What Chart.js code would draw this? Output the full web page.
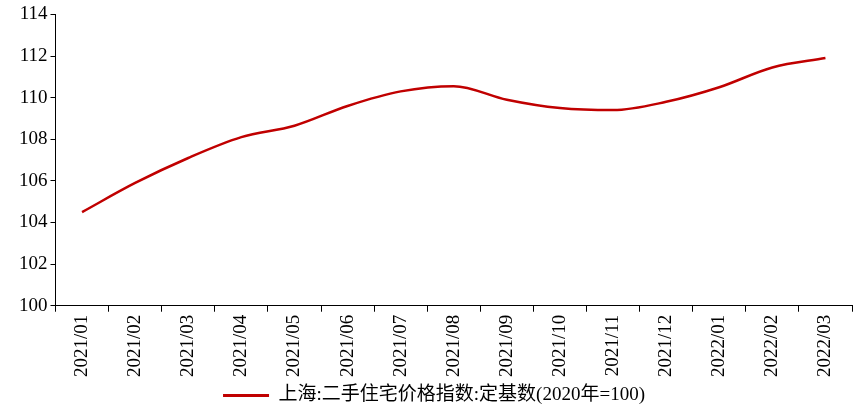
<!DOCTYPE html>
<html>
<head>
<meta charset="utf-8">
<script src="https://cdn.jsdelivr.net/npm/chart.js@4/dist/chart.umd.min.js"></script>
<style>
  html, body { margin: 0; padding: 0; background: #fff; }
  #wrap { width: 857px; height: 417px; }
</style>
</head>
<body>
<div id="wrap"><canvas id="chart"></canvas></div>
<script>
const labels = ['2021/01','2021/02','2021/03','2021/04','2021/05','2021/06','2021/07','2021/08',
                '2021/09','2021/10','2021/11','2021/12','2022/01','2022/02','2022/03'];
const values = [104.5, 105.9, 107.1, 108.1, 108.65, 109.6, 110.3, 110.55,
                109.9, 109.5, 109.4, 109.8, 110.5, 111.45, 111.9];
const seriesName = '上海:二手住宅价格指数:定基数(2020年=100)';

const font = "'Liberation Serif', 'Times New Roman', 'Noto Sans CJK SC', serif";

new Chart(document.getElementById('chart').getContext('2d'), {
    type: 'line',
    data: {
        labels: labels,
        datasets: [{
            label: seriesName,
            data: values,
            borderColor: '#C00000',
            backgroundColor: '#C00000',
            borderWidth: 2.5,
            pointRadius: 0,
            tension: 0.4,
            cubicInterpolationMode: 'monotone'
        }]
    },
    options: {
        responsive: true,
        maintainAspectRatio: false,
        animation: false,
        layout: { padding: { top: 6, right: 5, left: 16, bottom: 2 } },
        plugins: {
            tooltip: { enabled: false },
            legend: {
                position: 'bottom',
                labels: {
                    color: '#000',
                    font: { family: font, size: 19 },
                    boxWidth: 46,
                    boxHeight: 0,
                    padding: 6,
                    generateLabels: (chart) => [{
                        text: seriesName,
                        strokeStyle: '#C00000',
                        fillStyle: '#C00000',
                        lineWidth: 3,
                        datasetIndex: 0
                    }]
                }
            }
        },
        scales: {
            x: {
                offset: true,
                grid: {
                    offset: true,
                    display: true,
                    drawOnChartArea: false,
                    color: '#000',
                    tickLength: 6
                },
                border: { color: '#000', width: 1 },
                ticks: {
                    color: '#000',
                    font: { family: font, size: 19 },
                    maxRotation: 90,
                    minRotation: 90,
                    autoSkip: false
                }
            },
            y: {
                min: 100,
                max: 114,
                grid: {
                    display: true,
                    drawOnChartArea: false,
                    color: '#000',
                    tickLength: 5
                },
                border: { color: '#000', width: 1 },
                ticks: {
                    stepSize: 2,
                    color: '#000',
                    font: { family: font, size: 19 }
                }
            }
        }
    }
});
</script>
</body>
</html>
